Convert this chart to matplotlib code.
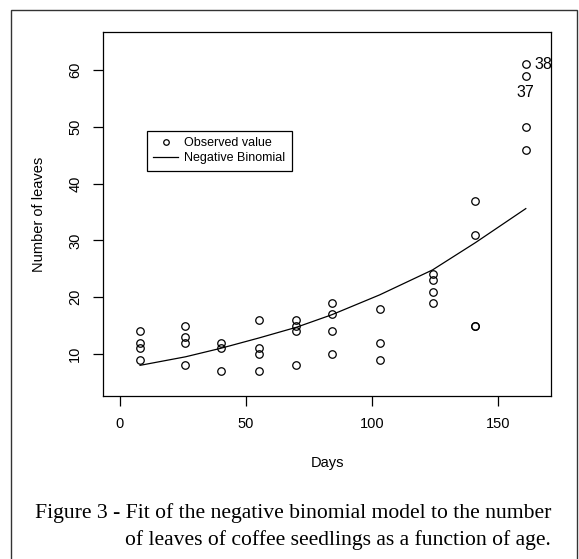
import matplotlib
matplotlib.use("Agg")
import matplotlib.pyplot as plt
from matplotlib.patches import Rectangle

# Observed data: days and number of leaves (38 observations)
days_obs = [8, 8, 8, 8,
            26, 26, 26, 26,
            40, 40, 40,
            55, 55, 55, 55,
            70, 70, 70, 70,
            84, 84, 84, 84,
            103, 103, 103,
            124, 124, 124, 124,
            141, 141, 141, 141,
            161, 161, 161, 161]
leaves_obs = [14, 12, 11, 9,
              15, 13, 12, 8,
              12, 11, 7,
              16, 11, 10, 7,
              16, 15, 14, 8,
              19, 17, 14, 10,
              18, 12, 9,
              24, 23, 21, 19,
              37, 31, 15, 15,
              61, 59, 50, 46]

# Fitted negative binomial curve (values at each day)
days_fit = [8, 26, 40, 55, 70, 84, 103, 124, 141, 161]
leaves_fit = [8.0, 9.5, 11.0, 12.8, 14.7, 16.9, 20.4, 24.8, 29.6, 35.6]

# Identified points
id_labels = ["38", "37"]
id_x = [161, 161]
id_y = [61, 59]

x_ticks = [0, 50, 100, 150]
y_ticks = [10, 20, 30, 40, 50, 60]

caption1 = "Figure 3 - Fit of the negative binomial model to the number"
caption2 = "of leaves of coffee seedlings as a function of age."

W, H = 579, 559
fig = plt.figure(figsize=(W / 100, H / 100), dpi=100)
fig.patch.set_facecolor("white")

# Outer frame (bottom edge cut off)
fig.patches.append(Rectangle((10.5 / W, -0.05), (577 - 10.5) / W, 1 - 9.5 / H + 0.05,
                             transform=fig.transFigure, fill=False,
                             edgecolor="#333333", linewidth=1.0))

ax = fig.add_axes([103 / W, 1 - 396 / H, (551 - 103) / W, (396 - 32) / H])
ax.plot(days_fit, leaves_fit, color="black", linewidth=0.9, label="Negative Binomial")
ax.plot(days_obs, leaves_obs, linestyle="none", marker="o", markersize=5.4,
        markerfacecolor="none", markeredgecolor="black", markeredgewidth=0.9,
        label="Observed value")

ax.set_xlim(-6.7, 171.0)
ax.set_ylim(2.6, 66.7)
ax.set_xticks(x_ticks)
ax.set_yticks(y_ticks)
for s in ax.spines.values():
    s.set_linewidth(0.9)
ax.tick_params(direction="out", length=7, width=0.9, labelsize=10.5, pad=8)
for lab in ax.get_xticklabels() + ax.get_yticklabels():
    lab.set_family("Liberation Sans")
for lab in ax.get_yticklabels():
    lab.set_rotation(90)
    lab.set_verticalalignment("center")

ax.set_xlabel("Days", fontsize=10.5, family="Liberation Sans", labelpad=18)
ax.set_ylabel("Number of leaves", fontsize=10.5, family="Liberation Sans", labelpad=16)

# identified labels
ax.annotate(id_labels[0], (id_x[0], id_y[0]), xytext=(6, 0), textcoords="offset points",
            ha="left", va="center", fontsize=11.5, family="Liberation Sans")
ax.annotate(id_labels[1], (id_x[1], id_y[1]), xytext=(0, -12), textcoords="offset points",
            ha="center", va="center", fontsize=11.5, family="Liberation Sans")

handles, labels = ax.get_legend_handles_labels()
leg = ax.legend([handles[1], handles[0]], [labels[1], labels[0]],
                loc="upper left", bbox_to_anchor=((147 - 103) / (551 - 103), 1 - (131 - 32) / (396 - 32)),
                frameon=True, fancybox=False, edgecolor="black", framealpha=1,
                prop={"family": "Liberation Sans", "size": 9},
                handlelength=2.0, handletextpad=0.5, borderpad=0.5,
                labelspacing=0.25, borderaxespad=0)
leg.get_frame().set_linewidth(0.9)
for h in leg.legend_handles:
    if h.get_marker() == "o":
        h.set_markersize(4)

fig.text(35 / W, 1 - 513 / H, caption1, ha="left", va="center",
         fontsize=15.6, family="Liberation Serif")
fig.text(125 / W, 1 - 540 / H, caption2, ha="left", va="center",
         fontsize=15.6, family="Liberation Serif")

fig.savefig("out.png", dpi=100)
